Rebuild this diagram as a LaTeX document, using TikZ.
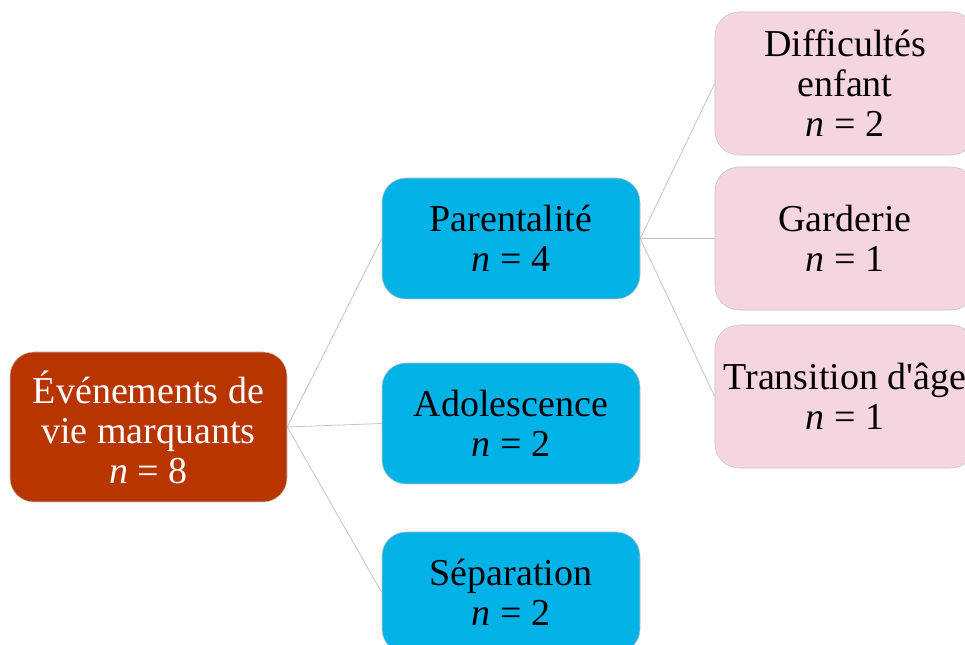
\documentclass[tikz,border=0pt]{standalone}
\usepackage{fontspec}
\setmainfont{Liberation Serif}
\definecolor{rust}{HTML}{B83500}
\definecolor{sky}{HTML}{00B2E6}
\definecolor{rose}{HTML}{F5D5E0}
\definecolor{wire}{HTML}{C4C4C4}

\begin{document}
\begin{tikzpicture}[x=0.75pt, y=-0.75pt,
      box/.style = {draw=wire, rounded corners=18pt, align=center, inner sep=0pt,
        font=\fontsize{28.5}{30}\selectfont},
      root/.style = {box, fill=rust, text=white, minimum width=207.75pt, minimum height=112.5pt},
      mid/.style = {box, fill=sky, minimum width=193.5pt, minimum height=90.75pt},
      leaf/.style = {box, fill=rose, minimum width=195pt, minimum height=107.25pt},
      link/.style = {draw=wire, line width=0.6pt}]
    \clip (0,0) rectangle (965,645);
    \useasboundingbox (0,0) rectangle (965,645);

    % nodes
    \node[root] (ev) at (148.5, 427) {Événements de\\vie marquants\\\textit{n} = 8};
    \node[mid] (par) at (511, 238.5) {Parentalité\\\textit{n} = 4};
    \node[mid] (ado) at (511, 423.5) {Adolescence\\\textit{n} = 2};
    \node[mid] (sep) at (511, 592.5) {Séparation\\\textit{n} = 2};
    \node[leaf] (dif) at (845, 83.5) {Difficultés\\enfant\\\textit{n} = 2};
    \node[leaf] (gar) at (845, 238.5) {Garderie\\\textit{n} = 1};
    \node[leaf] (tra) at (845, 396.5) {Transition d\textquotesingle âge\\\textit{n} = 1};

    % edges
    \draw[link] (ev.east) -- (par.west);
    \draw[link] (ev.east) -- (ado.west);
    \draw[link] (ev.east) -- (sep.west);
    \draw[link] (par.east) -- (dif.west);
    \draw[link] (par.east) -- (gar.west);
    \draw[link] (par.east) -- (tra.west);
  \end{tikzpicture}
\end{document}
